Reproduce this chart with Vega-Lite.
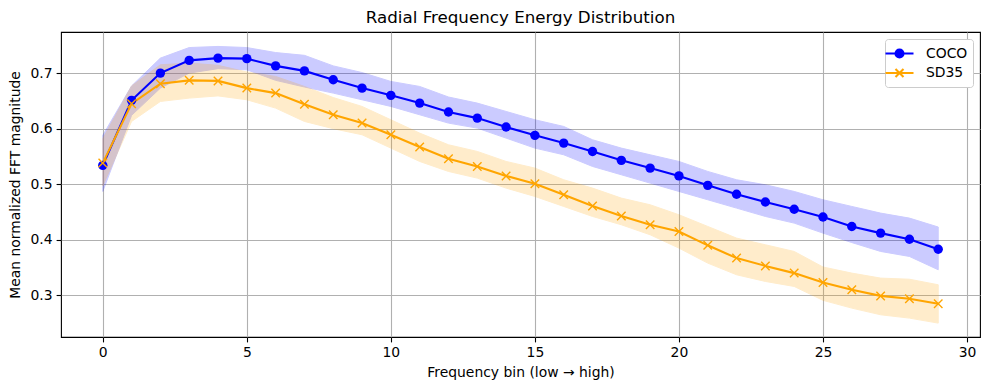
{
  "$schema": "https://vega.github.io/schema/vega-lite/v6.json",
  "autosize": {"type": "none"},
  "width": 919,
  "height": 305,
  "padding": {"left": 61, "top": 32, "right": 9, "bottom": 53},
  "background": "white",
  "title": {"text": "Radial Frequency Energy Distribution", "font": "DejaVu Sans", "fontSize": 16.7, "fontWeight": "normal", "color": "black", "anchor": "middle", "offset": 5.5},
  "config": {
    "view": {"stroke": "black", "strokeWidth": 1.1},
    "axis": {
      "labelFont": "DejaVu Sans", "labelFontSize": 13.9, "labelColor": "black",
      "titleFont": "DejaVu Sans", "titleFontSize": 13.9, "titleFontWeight": "normal", "titleColor": "black",
      "tickColor": "black", "tickSize": 4.9, "tickWidth": 1.1, "labelPadding": 4,
      "domain": false, "grid": true, "gridColor": "#b0b0b0", "gridWidth": 1.1
    },
    "legend": {"labelFont": "DejaVu Sans", "labelFontSize": 13.9, "labelColor": "black"}
  },
  "data": {"values": [
    {"bin": 0, "series": "COCO", "mean": 0.534, "lo": 0.487, "hi": 0.588},
    {"bin": 1, "series": "COCO", "mean": 0.651, "lo": 0.624, "hi": 0.677},
    {"bin": 2, "series": "COCO", "mean": 0.700, "lo": 0.673, "hi": 0.727},
    {"bin": 3, "series": "COCO", "mean": 0.723, "lo": 0.700, "hi": 0.746},
    {"bin": 4, "series": "COCO", "mean": 0.727, "lo": 0.708, "hi": 0.748},
    {"bin": 5, "series": "COCO", "mean": 0.726, "lo": 0.706, "hi": 0.746},
    {"bin": 6, "series": "COCO", "mean": 0.713, "lo": 0.687, "hi": 0.737},
    {"bin": 7, "series": "COCO", "mean": 0.704, "lo": 0.675, "hi": 0.732},
    {"bin": 8, "series": "COCO", "mean": 0.688, "lo": 0.664, "hi": 0.713},
    {"bin": 9, "series": "COCO", "mean": 0.673, "lo": 0.652, "hi": 0.701},
    {"bin": 10, "series": "COCO", "mean": 0.660, "lo": 0.640, "hi": 0.685},
    {"bin": 11, "series": "COCO", "mean": 0.646, "lo": 0.625, "hi": 0.676},
    {"bin": 12, "series": "COCO", "mean": 0.630, "lo": 0.610, "hi": 0.657},
    {"bin": 13, "series": "COCO", "mean": 0.619, "lo": 0.601, "hi": 0.646},
    {"bin": 14, "series": "COCO", "mean": 0.603, "lo": 0.583, "hi": 0.631},
    {"bin": 15, "series": "COCO", "mean": 0.588, "lo": 0.565, "hi": 0.616},
    {"bin": 16, "series": "COCO", "mean": 0.574, "lo": 0.553, "hi": 0.604},
    {"bin": 17, "series": "COCO", "mean": 0.559, "lo": 0.532, "hi": 0.580},
    {"bin": 18, "series": "COCO", "mean": 0.543, "lo": 0.517, "hi": 0.565},
    {"bin": 19, "series": "COCO", "mean": 0.529, "lo": 0.502, "hi": 0.553},
    {"bin": 20, "series": "COCO", "mean": 0.515, "lo": 0.487, "hi": 0.541},
    {"bin": 21, "series": "COCO", "mean": 0.498, "lo": 0.472, "hi": 0.523},
    {"bin": 22, "series": "COCO", "mean": 0.482, "lo": 0.457, "hi": 0.508},
    {"bin": 23, "series": "COCO", "mean": 0.468, "lo": 0.442, "hi": 0.499},
    {"bin": 24, "series": "COCO", "mean": 0.455, "lo": 0.430, "hi": 0.487},
    {"bin": 25, "series": "COCO", "mean": 0.441, "lo": 0.412, "hi": 0.472},
    {"bin": 26, "series": "COCO", "mean": 0.424, "lo": 0.395, "hi": 0.460},
    {"bin": 27, "series": "COCO", "mean": 0.412, "lo": 0.379, "hi": 0.448},
    {"bin": 28, "series": "COCO", "mean": 0.401, "lo": 0.370, "hi": 0.439},
    {"bin": 29, "series": "COCO", "mean": 0.383, "lo": 0.346, "hi": 0.423},
    {"bin": 0, "series": "SD35", "mean": 0.538, "lo": 0.497, "hi": 0.582},
    {"bin": 1, "series": "SD35", "mean": 0.645, "lo": 0.613, "hi": 0.677},
    {"bin": 2, "series": "SD35", "mean": 0.681, "lo": 0.649, "hi": 0.715},
    {"bin": 3, "series": "SD35", "mean": 0.687, "lo": 0.655, "hi": 0.718},
    {"bin": 4, "series": "SD35", "mean": 0.686, "lo": 0.659, "hi": 0.714},
    {"bin": 5, "series": "SD35", "mean": 0.673, "lo": 0.652, "hi": 0.702},
    {"bin": 6, "series": "SD35", "mean": 0.664, "lo": 0.637, "hi": 0.694},
    {"bin": 7, "series": "SD35", "mean": 0.644, "lo": 0.613, "hi": 0.676},
    {"bin": 8, "series": "SD35", "mean": 0.625, "lo": 0.600, "hi": 0.656},
    {"bin": 9, "series": "SD35", "mean": 0.610, "lo": 0.589, "hi": 0.640},
    {"bin": 10, "series": "SD35", "mean": 0.589, "lo": 0.565, "hi": 0.616},
    {"bin": 11, "series": "SD35", "mean": 0.567, "lo": 0.541, "hi": 0.592},
    {"bin": 12, "series": "SD35", "mean": 0.546, "lo": 0.523, "hi": 0.571},
    {"bin": 13, "series": "SD35", "mean": 0.532, "lo": 0.511, "hi": 0.559},
    {"bin": 14, "series": "SD35", "mean": 0.515, "lo": 0.493, "hi": 0.541},
    {"bin": 15, "series": "SD35", "mean": 0.501, "lo": 0.478, "hi": 0.529},
    {"bin": 16, "series": "SD35", "mean": 0.481, "lo": 0.460, "hi": 0.508},
    {"bin": 17, "series": "SD35", "mean": 0.461, "lo": 0.442, "hi": 0.493},
    {"bin": 18, "series": "SD35", "mean": 0.443, "lo": 0.427, "hi": 0.475},
    {"bin": 19, "series": "SD35", "mean": 0.427, "lo": 0.409, "hi": 0.463},
    {"bin": 20, "series": "SD35", "mean": 0.415, "lo": 0.385, "hi": 0.445},
    {"bin": 21, "series": "SD35", "mean": 0.390, "lo": 0.358, "hi": 0.424},
    {"bin": 22, "series": "SD35", "mean": 0.367, "lo": 0.337, "hi": 0.403},
    {"bin": 23, "series": "SD35", "mean": 0.353, "lo": 0.325, "hi": 0.391},
    {"bin": 24, "series": "SD35", "mean": 0.340, "lo": 0.316, "hi": 0.379},
    {"bin": 25, "series": "SD35", "mean": 0.323, "lo": 0.291, "hi": 0.351},
    {"bin": 26, "series": "SD35", "mean": 0.310, "lo": 0.277, "hi": 0.340},
    {"bin": 27, "series": "SD35", "mean": 0.299, "lo": 0.265, "hi": 0.331},
    {"bin": 28, "series": "SD35", "mean": 0.294, "lo": 0.259, "hi": 0.329},
    {"bin": 29, "series": "SD35", "mean": 0.285, "lo": 0.250, "hi": 0.319}
  ]},
  "encoding": {
    "x": {"field": "bin", "type": "quantitative", "title": "Frequency bin (low → high)",
      "scale": {"domain": [-1.45, 30.45], "nice": false, "zero": false},
      "axis": {"values": [0, 5, 10, 15, 20, 25, 30], "titlePadding": 6}},
    "y": {"field": "mean", "type": "quantitative", "title": "Mean normalized FFT magnitude",
      "scale": {"domain": [0.225, 0.774], "nice": false, "zero": false},
      "axis": {"values": [0.3, 0.4, 0.5, 0.6, 0.7], "format": ".1f", "titlePadding": 8}}
  },
  "layer": [
    {
      "transform": [{"filter": "datum.series === 'COCO'"}],
      "mark": {"type": "area", "opacity": 0.2, "strokeWidth": 1, "color": "#0000ff", "stroke": "#0000ff"},
      "encoding": {"y": {"field": "lo", "type": "quantitative"}, "y2": {"field": "hi"}}
    },
    {
      "transform": [{"filter": "datum.series === 'SD35'"}],
      "mark": {"type": "area", "opacity": 0.2, "strokeWidth": 1, "color": "#ffa500", "stroke": "#ffa500"},
      "encoding": {"y": {"field": "lo", "type": "quantitative"}, "y2": {"field": "hi"}}
    },
    {
      "transform": [{"filter": "datum.series === 'COCO'"}],
      "mark": {"type": "line", "strokeWidth": 2.1, "color": "#0000ff"},
      "encoding": {}
    },
    {
      "transform": [{"filter": "datum.series === 'SD35'"}],
      "mark": {"type": "line", "strokeWidth": 2.1, "color": "#ffa500"},
      "encoding": {}
    },
    {
      "transform": [{"filter": "datum.series === 'COCO'"}],
      "mark": {"type": "point", "shape": "circle", "filled": true, "size": 88, "opacity": 1, "color": "#0000ff"},
      "encoding": {}
    },
    {
      "transform": [{"filter": "datum.series === 'SD35'"}],
      "mark": {"type": "point", "shape": "M-1,-1L1,1M-1,1L1,-1", "filled": false, "size": 72, "opacity": 1, "strokeWidth": 1.4, "color": "#ffa500"},
      "encoding": {}
    },
    {
      "transform": [{"filter": "false"}],
      "mark": {"type": "point", "filled": true, "strokeWidth": 2.1, "opacity": 1, "fillOpacity": 1, "strokeOpacity": 1},
      "encoding": {
        "color": {"field": "series", "type": "nominal",
          "scale": {"domain": ["COCO", "SD35"], "range": ["#0000ff", "#ffa500"]},
          "legend": {"title": null, "orient": "top-right", "offset": 7, "fillColor": "white", "strokeColor": "#cccccc", "cornerRadius": 3, "padding": 5, "symbolSize": 256, "symbolOpacity": 1, "symbolStrokeWidth": 2.1, "labelOffset": 17, "rowPadding": 1.5, "labelFont": "DejaVu Sans", "labelFontSize": 13.9, "labelColor": "black"}},
        "stroke": {"field": "series", "type": "nominal",
          "scale": {"domain": ["COCO", "SD35"], "range": ["#0000ff", "#ffa500"]},
          "legend": {"title": null, "labelFontSize": 13.9}},
        "shape": {"field": "series", "type": "nominal",
          "scale": {"domain": ["COCO", "SD35"], "range": ["M-1.75,0H1.75M-0.5,0A0.5,0.5 0 1,1 0.5,0A0.5,0.5 0 1,1 -0.5,0Z", "M-1.75,0H1.75M-0.5,-0.5L0.5,0.5M-0.5,0.5L0.5,-0.5"]},
          "legend": {"title": null, "labelFontSize": 13.9}}
      }
    }
  ]
}
